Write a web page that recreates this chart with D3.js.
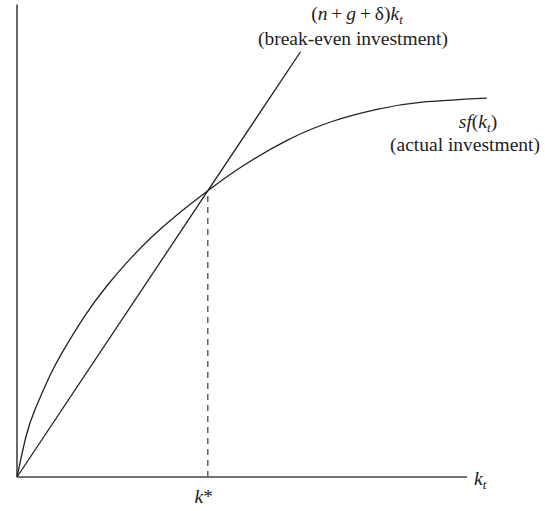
<!DOCTYPE html>
<html>
<head>
<meta charset="utf-8">
<script src="https://cdn.jsdelivr.net/npm/d3@7"></script>
<style>
  body { margin: 0; background: #fff; }
  text { font-family: "Liberation Serif", "DejaVu Serif", serif; fill: #222; }
</style>
</head>
<body>
<div class="chart"></div>
<script>
// actual investment sf(k)
const curveK = [0, 0.2, 0.4, 0.73, 1.0, 1.5, 2.0, 2.5, 3.0, 3.5, 4.24, 5.0, 6.0, 7.0, 8.0, 9.0, 10.44];
const curveY = [0, 0.9, 1.5, 2.25, 2.76, 3.57, 4.25, 4.83, 5.34, 5.78, 6.36, 6.9, 7.48, 7.9, 8.17, 8.33, 8.42];
// break-even investment (n+g+delta)k
const lineK = [0, 6.3];
const lineY = [0, 9.45];
const kStar = 4.24;
const kStarY = 6.36;

const width = 545, height = 511;
const svg = d3.select(".chart").append("svg")
  .attr("width", width)
  .attr("height", height);

const x = d3.scaleLinear().domain([0, 10]).range([17, 467]);
const y = d3.scaleLinear().domain([0, 10]).range([477, 27]);

// axes
svg.append("line")
  .attr("x1", x(0)).attr("x2", x(0))
  .attr("y1", y(0)).attr("y2", y(10.5))
  .style("stroke", "#444").style("stroke-width", 1.6);
svg.append("line")
  .attr("x1", x(0)).attr("x2", x(10))
  .attr("y1", y(0)).attr("y2", y(0))
  .style("stroke", "#444").style("stroke-width", 1.6);

// dashed k*
svg.append("line")
  .attr("x1", x(kStar)).attr("x2", x(kStar))
  .attr("y1", y(0)).attr("y2", y(kStarY))
  .style("stroke", "#555").style("stroke-width", 1.4)
  .style("stroke-dasharray", "6,5");

// break-even line
const lineData = lineK.map((k, i) => [k, lineY[i]]);
svg.append("path")
  .datum(lineData)
  .attr("d", d3.line().x(d => x(d[0])).y(d => y(d[1])))
  .attr("fill", "none")
  .style("stroke", "#222").style("stroke-width", 1.3);

// sf(k) curve
const curveData = curveK.map((k, i) => [k, curveY[i]]);
svg.append("path")
  .datum(curveData)
  .attr("d", d3.line().curve(d3.curveNatural).x(d => x(d[0])).y(d => y(d[1])))
  .attr("fill", "none")
  .style("stroke", "#222").style("stroke-width", 1.3);

// labels
function mathText(xPos, yPos, parts, anchor) {
  const t = svg.append("text")
    .attr("x", xPos).attr("y", yPos)
    .attr("text-anchor", anchor || "middle")
    .style("font-size", "19.5px");
  parts.forEach(p => {
    const s = t.append("tspan").text(p.t);
    if (p.i) s.style("font-style", "italic");
    if (p.sub) s.attr("dy", 3.5).style("font-size", "13px");
    if (p.up) s.attr("dy", -3.5);
  });
  return t;
}

mathText(357, 20, [
  {t: "("}, {t: "n", i: 1}, {t: "\u2009+\u2009"}, {t: "g", i: 1}, {t: "\u2009+\u2009δ)"},
  {t: "k", i: 1}, {t: "t", i: 1, sub: 1}
]);
svg.append("text").attr("x", 353).attr("y", 45)
  .attr("text-anchor", "middle").style("font-size", "19.5px")
  .text("(break-even investment)");

mathText(478, 128, [
  {t: "sf", i: 1}, {t: "("}, {t: "k", i: 1}, {t: "t", i: 1, sub: 1}, {t: ")", up: 1}
]);
svg.append("text").attr("x", 465).attr("y", 151)
  .attr("text-anchor", "middle").style("font-size", "19.5px")
  .text("(actual investment)");

mathText(x(kStar) - 4, 503, [{t: "k", i: 1}, {t: "*"}]);
mathText(474, 485, [{t: "k", i: 1}, {t: "t", i: 1, sub: 1}], "start");
</script>
</body>
</html>
